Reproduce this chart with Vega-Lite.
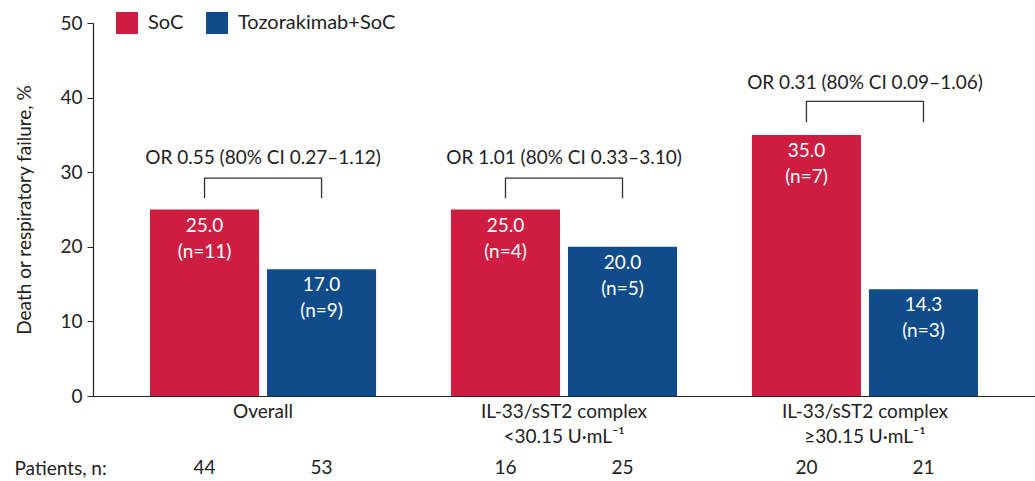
{
  "$schema": "https://vega.github.io/schema/vega-lite/v6.json",
  "width": 942,
  "height": 373,
  "autosize": "none",
  "padding": {"left": 93, "top": 23, "right": 0, "bottom": 85},
  "config": {
    "font": "Lato",
    "view": {"stroke": null},
    "axis": {"labelFont": "Lato", "titleFont": "Lato", "labelColor": "#222", "titleColor": "#222", "domainColor": "#222", "tickColor": "#222"}
  },
  "datasets": {
    "bars": [
      {"group": "Overall", "arm": "SoC", "pct": 25.0, "nlabel": "(n=11)", "patients": 44},
      {"group": "Overall", "arm": "Tozorakimab+SoC", "pct": 17.0, "nlabel": "(n=9)", "patients": 53},
      {"group": "IL-33/sST2 complex|<30.15 U·mL⁻¹", "arm": "SoC", "pct": 25.0, "nlabel": "(n=4)", "patients": 16},
      {"group": "IL-33/sST2 complex|<30.15 U·mL⁻¹", "arm": "Tozorakimab+SoC", "pct": 20.0, "nlabel": "(n=5)", "patients": 25},
      {"group": "IL-33/sST2 complex|≥30.15 U·mL⁻¹", "arm": "SoC", "pct": 35.0, "nlabel": "(n=7)", "patients": 20},
      {"group": "IL-33/sST2 complex|≥30.15 U·mL⁻¹", "arm": "Tozorakimab+SoC", "pct": 14.3, "nlabel": "(n=3)", "patients": 21}
    ],
    "brackets": [
      {"group": "Overall", "arm": "SoC", "y": 26.5, "ord": 1},
      {"group": "Overall", "arm": "SoC", "y": 29.2, "ord": 2},
      {"group": "Overall", "arm": "Tozorakimab+SoC", "y": 29.2, "ord": 3},
      {"group": "Overall", "arm": "Tozorakimab+SoC", "y": 26.5, "ord": 4},
      {"group": "IL-33/sST2 complex|<30.15 U·mL⁻¹", "arm": "SoC", "y": 26.5, "ord": 1},
      {"group": "IL-33/sST2 complex|<30.15 U·mL⁻¹", "arm": "SoC", "y": 29.2, "ord": 2},
      {"group": "IL-33/sST2 complex|<30.15 U·mL⁻¹", "arm": "Tozorakimab+SoC", "y": 29.2, "ord": 3},
      {"group": "IL-33/sST2 complex|<30.15 U·mL⁻¹", "arm": "Tozorakimab+SoC", "y": 26.5, "ord": 4},
      {"group": "IL-33/sST2 complex|≥30.15 U·mL⁻¹", "arm": "SoC", "y": 36.7, "ord": 1},
      {"group": "IL-33/sST2 complex|≥30.15 U·mL⁻¹", "arm": "SoC", "y": 39.5, "ord": 2},
      {"group": "IL-33/sST2 complex|≥30.15 U·mL⁻¹", "arm": "Tozorakimab+SoC", "y": 39.5, "ord": 3},
      {"group": "IL-33/sST2 complex|≥30.15 U·mL⁻¹", "arm": "Tozorakimab+SoC", "y": 36.7, "ord": 4}
    ],
    "ors": [
      {"group": "Overall", "label": "OR 0.55 (80% CI 0.27–1.12)", "y": 31.9},
      {"group": "IL-33/sST2 complex|<30.15 U·mL⁻¹", "label": "OR 1.01 (80% CI 0.33–3.10)", "y": 31.9},
      {"group": "IL-33/sST2 complex|≥30.15 U·mL⁻¹", "label": "OR 0.31 (80% CI 0.09–1.06)", "y": 42.0}
    ]
  },
  "encoding": {
    "x": {
      "field": "group", "type": "nominal", "sort": null,
      "scale": {"paddingInner": 0, "paddingOuter": 0.065},
      "axis": {
        "title": "Patients, n:", "titleAnchor": "start", "titleAlign": "left", "titleX": -79, "titleY": 72,
        "titleBaseline": "middle", "titleFontSize": 19, "titleFontWeight": "normal",
        "labelAngle": 0, "labelFontSize": 19, "ticks": false, "labelPadding": 6,
        "labelBaseline": "top", "labelLineHeight": 25,
        "labelExpr": "split(datum.label, '|')", "domainWidth": 1.2
      }
    }
  },
  "layer": [
    {
      "data": {"name": "bars"},
      "mark": {"type": "bar"},
      "encoding": {
        "xOffset": {"field": "arm", "type": "nominal", "scale": {"paddingInner": 0.068, "paddingOuter": 0.32}},
        "y": {
          "field": "pct", "type": "quantitative",
          "scale": {"domain": [0, 50], "nice": false},
          "axis": {"title": "Death or respiratory failure, %", "titleFontSize": 19, "titleFontWeight": "normal", "titlePadding": 25,
                   "values": [0, 10, 20, 30, 40, 50], "labelFontSize": 19, "grid": false, "tickSize": 6, "labelPadding": 5, "domainWidth": 1.2}
        },
        "color": {
          "field": "arm", "type": "nominal",
          "scale": {"domain": ["SoC", "Tozorakimab+SoC"], "range": ["#CD1E41", "#104C8A"]},
          "legend": {
            "title": null, "orient": "none", "legendX": 23, "legendY": -11, "direction": "horizontal",
            "symbolType": "square", "symbolSize": 484, "symbolStrokeWidth": 0, "labelFontSize": 20, "labelColor": "#222",
            "labelOffset": 10, "columnPadding": 22, "labelFont": "Lato"
          }
        }
      }
    },
    {
      "data": {"name": "bars"},
      "mark": {"type": "text", "color": "white", "fontSize": 19, "baseline": "middle", "dy": 16},
      "encoding": {
        "xOffset": {"field": "arm", "type": "nominal", "scale": {"paddingInner": 0.068, "paddingOuter": 0.32}},
        "y": {"field": "pct", "type": "quantitative"},
        "text": {"field": "pct", "type": "quantitative", "format": ".1f"}
      }
    },
    {
      "data": {"name": "bars"},
      "mark": {"type": "text", "color": "white", "fontSize": 19, "baseline": "middle", "dy": 42},
      "encoding": {
        "xOffset": {"field": "arm", "type": "nominal", "scale": {"paddingInner": 0.068, "paddingOuter": 0.32}},
        "y": {"field": "pct", "type": "quantitative"},
        "text": {"field": "nlabel", "type": "nominal"}
      }
    },
    {
      "data": {"name": "bars"},
      "mark": {"type": "text", "color": "#222", "fontSize": 19, "baseline": "middle"},
      "encoding": {
        "xOffset": {"field": "arm", "type": "nominal", "scale": {"paddingInner": 0.068, "paddingOuter": 0.32}},
        "y": {"datum": -9.65},
        "text": {"field": "patients", "type": "quantitative"}
      }
    },
    {
      "data": {"name": "brackets"},
      "mark": {"type": "line", "color": "#333", "strokeWidth": 1.3},
      "encoding": {
        "xOffset": {"field": "arm", "type": "nominal", "scale": {"paddingInner": 0.068, "paddingOuter": 0.32}},
        "y": {"field": "y", "type": "quantitative"},
        "detail": {"field": "group"},
        "order": {"field": "ord", "type": "quantitative"}
      }
    },
    {
      "data": {"name": "ors"},
      "mark": {"type": "text", "color": "#222", "fontSize": 19, "baseline": "middle"},
      "encoding": {
        "y": {"field": "y", "type": "quantitative"},
        "text": {"field": "label", "type": "nominal"}
      }
    }
  ]
}
